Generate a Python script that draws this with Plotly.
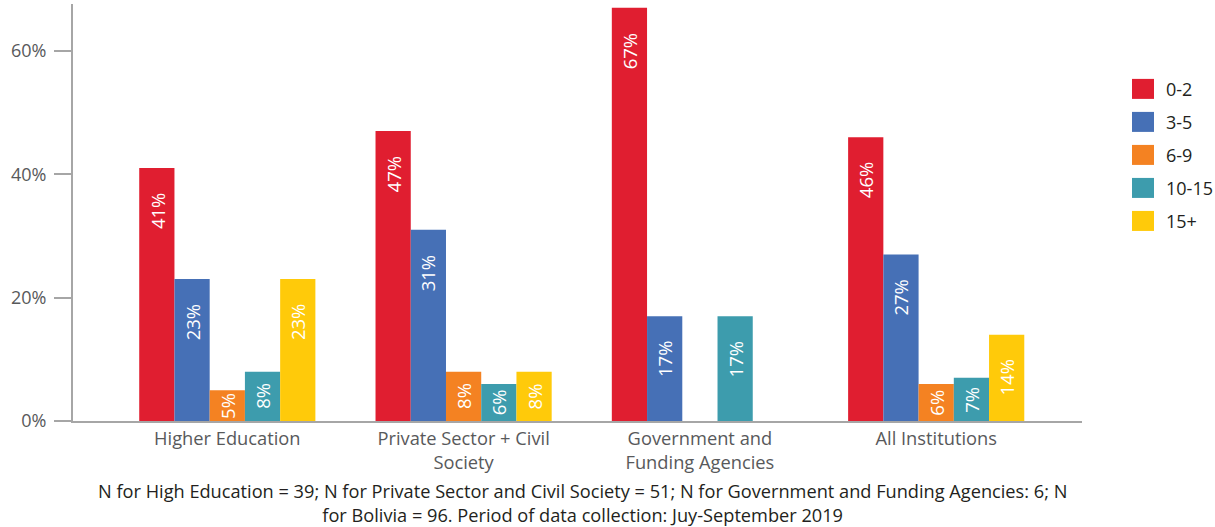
import plotly.graph_objects as go

# ---- data ----
categories = [
    "Higher Education",
    "Private Sector + Civil<br>Society",
    "Government and<br>Funding Agencies",
    "All Institutions",
]
series_names = ["0-2", "3-5", "6-9", "10-15", "15+"]
share_0_2 = [41, 47, 67, 46]
share_3_5 = [23, 31, 17, 27]
share_6_9 = [5, 8, 0, 6]
share_10_15 = [8, 6, 17, 7]
share_15_plus = [23, 8, 0, 14]
y_tick_values = [0, 20, 40, 60]
y_tick_labels = ["0%", "20%", "40%", "60%"]
footnote = ("N for High Education = 39; N for Private Sector and Civil Society = 51; "
            "N for Government and Funding Agencies: 6; N<br>"
            "for Bolivia = 96. Period of data collection: Juy-September 2019")

series_values = [share_0_2, share_3_5, share_6_9, share_10_15, share_15_plus]
colors = ["#E01E30", "#4670B6", "#F48222", "#3D9CAD", "#FFCA0A"]

# ---- page geometry (pixels) ----
W, H = 1215, 527
PLOT_L, PLOT_R = 73, 1082
PLOT_B = 421
Y_MAX = 67.6
PX_PER_UNIT = (421 - 51) / 60.0
PLOT_T = PLOT_B - Y_MAX * PX_PER_UNIT

def px_x(x):
    return (x - PLOT_L) / (PLOT_R - PLOT_L)

def px_y(y):
    return (PLOT_B - y) / (PLOT_B - PLOT_T)

FONT = "Open Sans, Noto Sans, sans-serif"
BARGAP = 0.2545
n_series = len(series_names)
bar_w = (1 - BARGAP) / n_series

fig = go.Figure()
for name, vals, col in zip(series_names, series_values, colors):
    fig.add_trace(go.Bar(
        name=name, x=categories, y=vals,
        marker=dict(color=col, line=dict(width=0)),
        showlegend=False,
    ))

# value labels, rotated, inside each bar near its top
annotations = []
label_drop = 7.0  # data units below the bar top
for j, vals in enumerate(series_values):
    for i, v in enumerate(vals):
        if v <= 0:
            continue
        annotations.append(dict(
            x=i + (j - (n_series - 1) / 2) * bar_w,
            y=max(v / 2.0, v - label_drop),
            xref="x", yref="y",
            text=f"{v}%", textangle=-90, showarrow=False,
            font=dict(family=FONT, size=18.5, color="white"),
            xanchor="center", yanchor="middle",
        ))

# legend drawn as swatches with labels
shapes = []
legend_y0 = 89
legend_step = 33
for k, (name, col) in enumerate(zip(series_names, colors)):
    cy = legend_y0 + k * legend_step
    shapes.append(dict(
        type="rect", xref="paper", yref="paper",
        x0=px_x(1132), x1=px_x(1154), y0=px_y(cy + 10), y1=px_y(cy - 10),
        fillcolor=col, line=dict(width=0),
    ))
    annotations.append(dict(
        x=px_x(1164), y=px_y(cy), xref="paper", yref="paper",
        text=name, showarrow=False, xanchor="left", yanchor="middle",
        font=dict(family=FONT, size=18, color="#231F20"),
    ))

annotations.append(dict(
    x=px_x(582), y=px_y(503), xref="paper", yref="paper",
    text=footnote, showarrow=False, xanchor="center", yanchor="middle",
    align="center",
    font=dict(family=FONT, size=18.2, color="#231F20"),
))

fig.update_layout(
    width=W, height=H,
    margin=dict(l=PLOT_L, r=W - PLOT_R, t=PLOT_T, b=H - PLOT_B, pad=0),
    paper_bgcolor="white", plot_bgcolor="white",
    barmode="group", bargap=BARGAP, bargroupgap=0,
    showlegend=False,
    annotations=annotations, shapes=shapes,
    font=dict(family=FONT),
)
fig.update_xaxes(
    type="category", range=[-0.653, 3.617],
    showline=True, linecolor="#A6A6A6", linewidth=2,
    ticks="", showgrid=False, zeroline=False,
    tickfont=dict(family=FONT, size=18.3, color="#58595B"),
)
fig.update_yaxes(
    range=[0, Y_MAX],
    tickvals=y_tick_values, ticktext=y_tick_labels,
    showline=True, linecolor="#A6A6A6", linewidth=2,
    ticks="outside", ticklen=17, tickwidth=2, tickcolor="#A6A6A6",
    ticklabelstandoff=4,
    showgrid=False, zeroline=False,
    tickfont=dict(family=FONT, size=18, color="#58595B"),
)

fig.write_html("out.html")
